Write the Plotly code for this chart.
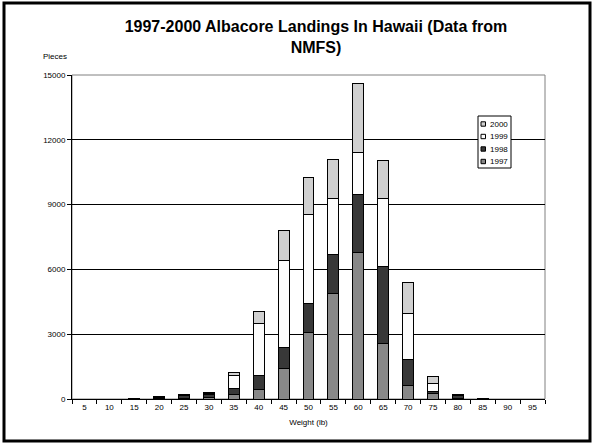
import plotly.graph_objects as go

weights = ["5", "10", "15", "20", "25", "30", "35", "40", "45", "50",
           "55", "60", "65", "70", "75", "80", "85", "90", "95"]
y1997 = [0, 0, 15, 20, 30, 80, 217, 430, 1418, 3080, 4865, 6777, 2580, 647, 246, 30, 10, 0, 0]
y1998 = [0, 0, 10, 70, 140, 110, 277, 665, 952, 1320, 1820, 2708, 3550, 1200, 124, 150, 10, 0, 0]
y1999 = [0, 0, 5, 10, 20, 60, 615, 2400, 4052, 4150, 2587, 1940, 3140, 2110, 370, 10, 5, 0, 0]
y2000 = [0, 0, 5, 5, 10, 40, 124, 553, 1386, 1720, 1830, 3180, 1770, 1447, 293, 10, 5, 0, 0]
y_ticks = [0, 3000, 6000, 9000, 12000, 15000]

series = [("1997", y1997, "#888888"), ("1998", y1998, "#383838"),
          ("1999", y1999, "#fcfcfc"), ("2000", y2000, "#d0d0d0")]

FONT = "Liberation Sans, Arial, sans-serif"
fig = go.Figure()
for name, vals, col in series:
    fig.add_trace(go.Bar(x=weights, y=vals, name=name, marker_color=col,
                         marker_line_color="black", marker_line_width=1,
                         showlegend=False, hoverinfo="skip"))

L, R, T, B = 72, 50, 75, 45
W, H = 595, 444
pw, ph = W - L - R, H - T - B

def px(x):
    return (x - L) / pw

def py(y):
    return (H - B - y) / ph

fig.update_layout(
    width=W, height=H, barmode="stack", bargap=0.56,
    margin=dict(l=L, r=R, t=T, b=B, autoexpand=False),
    paper_bgcolor="white", plot_bgcolor="white",
    font=dict(family=FONT, size=8, color="black"),
    title=dict(text="<b>1997-2000 Albacore Landings In Hawaii (Data from<br>NMFS)</b>",
               x=px(316), xref="paper", xanchor="center", y=1 - 32 / H, yanchor="middle",
               font=dict(size=16, family=FONT, color="black")),
    showlegend=False,
)
fig.update_xaxes(type="category", showline=True, linecolor="black", linewidth=1,
                 ticks="outside", ticklen=4, tickcolor="black", tickson="boundaries",
                 title=dict(text="Weight (lb)", font=dict(size=8), standoff=8),
                 mirror=False, showgrid=False, tickfont=dict(size=8))
fig.update_yaxes(range=[0, 15000], tickvals=y_ticks, tickformat="d", showline=True,
                 linecolor="black", linewidth=1, ticks="outside", ticklen=4,
                 tickcolor="black", showgrid=True, gridcolor="black", gridwidth=1,
                 zeroline=False, tickfont=dict(size=8))
# plot-area border
fig.add_shape(type="rect", xref="paper", yref="paper", x0=0, x1=1, y0=0, y1=1,
              line=dict(color="#808080", width=1), layer="below")
# outer chart border
fig.add_shape(type="rect", xref="paper", yref="paper",
              x0=px(4), x1=px(590), y0=py(441), y1=py(3),
              line=dict(color="black", width=3))
fig.add_annotation(text="Pieces", xref="paper", yref="paper", x=px(55), y=py(57),
                   showarrow=False, font=dict(size=8), xanchor="center", yanchor="middle")

# compact legend (Excel style)
lx0, lx1, ly0, ly1 = 478, 511, 116, 168
fig.add_shape(type="rect", xref="paper", yref="paper", x0=px(lx0), x1=px(lx1),
              y0=py(ly1), y1=py(ly0), line=dict(color="black", width=1),
              fillcolor="white", layer="above")
for i, (name, vals, col) in enumerate(reversed(series)):
    cy = 124 + i * 12.5
    fig.add_shape(type="rect", xref="paper", yref="paper",
                  x0=px(481), x1=px(485.5), y0=py(cy + 2.2), y1=py(cy - 2.2),
                  line=dict(color="black", width=1), fillcolor=col, layer="above")
    fig.add_annotation(text=name, xref="paper", yref="paper", x=px(487.5), y=py(cy),
                       showarrow=False, xanchor="left", yanchor="middle",
                       font=dict(size=8))

fig.write_html("out.html", config={"displayModeBar": False},
               post_script="document.body.style.margin='0';")
